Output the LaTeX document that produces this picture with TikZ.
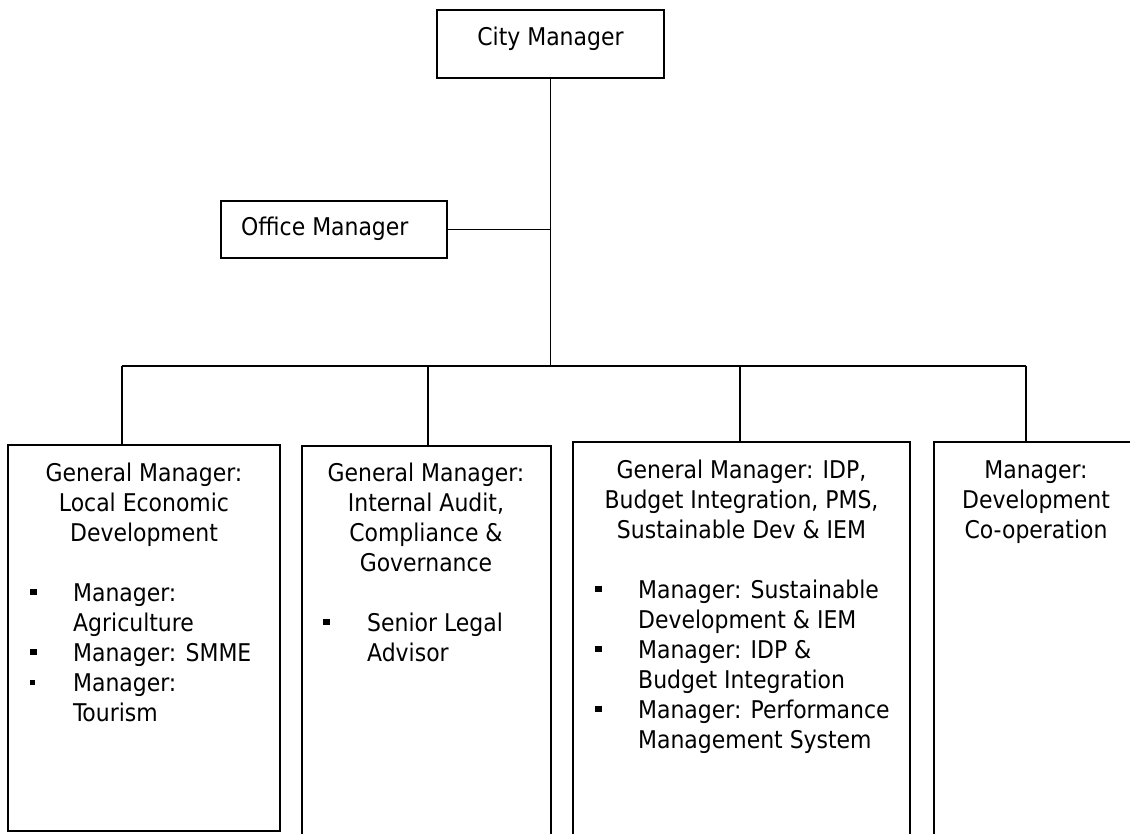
\documentclass[tikz,border=0pt]{standalone}
\usepackage{fontspec}
\setmainfont{DejaVu Sans Condensed}
\usepackage{array}
\newcommand{\bsq}{\rule[6pt]{6.5pt}{6.5pt}}
\newcommand{\bsqs}{\rule[6.5pt]{5pt}{5pt}}
\begin{document}
\begin{tikzpicture}[x=1pt,y=-1pt,
  orgbox/.style={draw, line width=2.2pt, inner sep=0pt},
  link/.style={line width=1.6pt},
  lbl/.style={inner sep=0pt, font=\fontsize{24.4}{30}\selectfont}]
\useasboundingbox[fill=white] (0,0) rectangle (1130,833);
% boxes
\node[orgbox, minimum width=227pt, minimum height=68pt] (cm) at (550.5,44) {};
\node[orgbox, minimum width=226pt, minimum height=57pt] (om) at (334,229.5) {};
\node[orgbox, minimum width=272pt, minimum height=386pt] (b1) at (144,638) {};
\node[orgbox, minimum width=249pt, minimum height=454pt] (b2) at (426.5,673) {};
\node[orgbox, minimum width=337pt, minimum height=458pt] (b3) at (741.5,671) {};
\node[orgbox, minimum width=206pt, minimum height=458pt] (b4) at (1037,671) {};
% texts
\node[lbl, anchor=base] (tcm) at (550.5,45) {City Manager};
\node[lbl, anchor=base west] (tom) at (241,235) {Office Manager};
\node[lbl, anchor=north] (t1) at (144,460) {\begin{tabular}{@{}c@{}}General Manager:\\Local Economic\\Development\end{tabular}};
\node[lbl, anchor=north west] (l1) at (30,580) {\begin{tabular}{@{}p{43pt}@{}l@{}}\bsq & Manager:\\ & Agriculture\\ \bsq & Manager: SMME\\ \bsqs & Manager:\\ & Tourism\end{tabular}};
\node[lbl, anchor=north] (t2) at (426,460) {\begin{tabular}{@{}c@{}}General Manager:\\Internal Audit,\\Compliance \&\\Governance\end{tabular}};
\node[lbl, anchor=north west] (l2) at (323,610) {\begin{tabular}{@{}p{44pt}@{}l@{}}\bsq & Senior Legal\\ & Advisor\end{tabular}};
\node[lbl, anchor=north] (t3) at (741.5,457) {\begin{tabular}{@{}c@{}}General Manager: IDP,\\Budget Integration, PMS,\\Sustainable Dev \& IEM\end{tabular}};
\node[lbl, anchor=north west] (l3) at (595,577) {\begin{tabular}{@{}p{43pt}@{}l@{}}\bsq & Manager: Sustainable\\ & Development \& IEM\\ \bsq & Manager: IDP \&\\ & Budget Integration\\ \bsq & Manager: Performance\\ & Management System\end{tabular}};
\node[lbl, anchor=north] (t4) at (1036,457) {\begin{tabular}{@{}c@{}}Manager:\\Development\\Co-operation\end{tabular}};
% connectors
\coordinate (d1) at (122,366);
\coordinate (d2) at (428,366);
\coordinate (d3) at (740,366);
\coordinate (d4) at (1026,366);
\coordinate (hub) at (550,366);
\draw[link] (cm.south) -- (cm.south |- hub);
\draw[link] (om.east) -- (om.east -| cm.south);
\draw[link] (d1) -- (d4);
\draw[link] (d1) -- (d1 |- b1.north);
\draw[link] (d2) -- (d2 |- b2.north);
\draw[link] (d3) -- (d3 |- b3.north);
\draw[link] (d4) -- (d4 |- b4.north);
\end{tikzpicture}
\end{document}
